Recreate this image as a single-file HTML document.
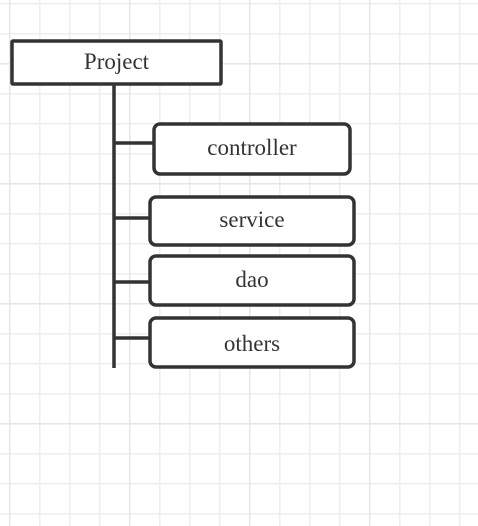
<!DOCTYPE html>
<html><head><style>html,body{margin:0;padding:0;background:#fff;}
#c{position:relative;width:478px;height:526px;}
svg{position:absolute;left:0;top:0;display:block}
.t{position:absolute;font-family:"Liberation Serif","Times New Roman",Times,"DejaVu Serif",serif;font-size:23px;color:#333;text-align:center;line-height:26px;}</style></head>
<body><div id="c">
<svg width="478" height="526" xmlns="http://www.w3.org/2000/svg">
<defs>
<pattern id="g" x="9" y="3" width="30" height="30" patternUnits="userSpaceOnUse">
<path d="M0.5 0V30M0 0.5H30" stroke="#eeeeee" stroke-width="2" fill="none"/>
</pattern>
<pattern id="G" x="9" y="63" width="120" height="120" patternUnits="userSpaceOnUse">
<path d="M0.5 0V120M0 0.5H120" stroke="#e6e6e6" stroke-width="2" fill="none"/>
</pattern>
</defs>
<rect width="478" height="526" fill="url(#g)"/>
<rect width="478" height="526" fill="url(#G)"/>
<g stroke="#333" stroke-width="3.5" fill="none">
<line x1="114" y1="84" x2="114" y2="368"/>
<line x1="114" y1="143" x2="157" y2="143"/>
<line x1="114" y1="218" x2="150" y2="218"/>
<line x1="114" y1="282" x2="150" y2="282"/>
<line x1="114" y1="338" x2="150" y2="338"/>
</g>
<g stroke="#333" stroke-width="3.5" fill="#fff">
<rect x="12" y="41" width="209" height="43" rx="1"/>
<rect x="154" y="124" width="196" height="50" rx="6"/>
<rect x="150" y="197" width="204" height="48" rx="6"/>
<rect x="150" y="256" width="204" height="49" rx="6"/>
<rect x="150" y="318" width="204" height="49" rx="6"/>
</g>
</svg>
<div class="t" style="left:12px;top:49px;width:209px">Project</div>
<div class="t" style="left:154px;top:135px;width:196px">controller</div>
<div class="t" style="left:150px;top:207px;width:204px">service</div>
<div class="t" style="left:150px;top:267px;width:204px">dao</div>
<div class="t" style="left:150px;top:331px;width:204px">others</div>
</div>
</body></html>
